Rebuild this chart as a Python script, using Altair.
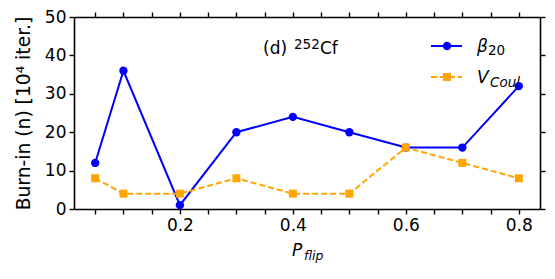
import altair as alt
import pandas as pd

p_flip = [0.05, 0.1, 0.2, 0.3, 0.4, 0.5, 0.6, 0.7, 0.8]
beta20 = [12, 36, 1, 20, 24, 20, 16, 16, 32]
vcoul = [8, 4, 4, 8, 4, 4, 16, 12, 8]
x_ticks = [0.05, 0.1, 0.15, 0.2, 0.25, 0.3, 0.35, 0.4, 0.45, 0.5, 0.55, 0.6, 0.65, 0.7, 0.75, 0.8]
y_ticks = [0, 10, 20, 30, 40, 50]

df = pd.DataFrame({"p": p_flip, "beta": beta20, "vcoul": vcoul})

FONT = "DejaVu Sans"
FS = 17
xscale = alt.Scale(domain=[0.0125, 0.8375], nice=False, zero=False)
yscale = alt.Scale(domain=[0, 50], nice=False)

axis_common = dict(
    domainColor="black", domainWidth=1.6, tickColor="black", tickWidth=1.4,
    tickSize=5, grid=False, labelFont=FONT, labelFontSize=FS, labelColor="black",
    titleFont=FONT, titleFontWeight="normal", titleColor="black",
)

x_bottom = alt.X("p:Q", scale=xscale, axis=alt.Axis(
    orient="bottom", values=x_ticks, title=None, labelPadding=3,
    labelExpr="abs(datum.value*10 % 2) < 0.01 || abs(datum.value*10 % 2 - 2) < 0.01 ? format(datum.value, '.1f') : ''",
    labelFlush=False, labelOverlap=False, **axis_common))
y_left = alt.Y("beta:Q", scale=yscale, axis=alt.Axis(
    orient="left", values=y_ticks, title="Burn-in (n) [10⁴ iter.]", titlePadding=11,
    titleFontSize=18.7, labelPadding=3, **axis_common))

x_top = alt.X("p:Q", scale=xscale, axis=alt.Axis(
    orient="top", values=x_ticks, labels=False, title=None, **axis_common))
y_right = alt.Y("vcoul:Q", scale=yscale, axis=alt.Axis(
    orient="right", values=y_ticks, labels=False, title=None, **axis_common))

base = alt.Chart(df)
beta_line = base.mark_line(color="blue", strokeWidth=2).encode(x=x_bottom, y=y_left)
beta_pts = base.mark_point(shape="circle", filled=True, size=70, color="blue", opacity=1).encode(
    x=alt.X("p:Q", scale=xscale, axis=None), y=alt.Y("beta:Q", scale=yscale, axis=None))
v_line = base.mark_line(color="orange", strokeWidth=2, strokeDash=[6, 3]).encode(x=x_top, y=y_right)
v_pts = base.mark_point(shape="square", filled=True, size=64, color="orange", opacity=1).encode(
    x=alt.X("p:Q", scale=xscale, axis=None), y=alt.Y("vcoul:Q", scale=yscale, axis=None))

one = pd.DataFrame({"a": [0]})
def txt(s, x, y, size=FS, style="normal", baseline="alphabetic", align="left"):
    return alt.Chart(one).mark_text(text=s, font=FONT, fontSize=size, fontStyle=style,
                                    color="black", align=align, baseline=baseline).encode(
        x=alt.value(x), y=alt.value(y))

# annotation (d) 252Cf
ann = [txt("(d)", 189, 37), txt("252", 220, 32, size=13.5), txt("Cf", 246, 37)]
# x-axis title P_flip
xt = [txt("P", 218, 239, style="italic"), txt("flip", 230, 243, size=12.5, style="italic")]
# legend
leg_b_line = alt.Chart(one).mark_rule(color="blue", strokeWidth=2).encode(
    x=alt.value(357), x2=alt.value(388), y=alt.value(29))
leg_b_pt = alt.Chart(one).mark_point(shape="circle", filled=True, size=70, color="blue", opacity=1).encode(
    x=alt.value(373), y=alt.value(29))
leg_v_line = alt.Chart(one).mark_rule(color="orange", strokeWidth=2, strokeDash=[6, 3]).encode(
    x=alt.value(357), x2=alt.value(388), y=alt.value(60))
leg_v_pt = alt.Chart(one).mark_point(shape="square", filled=True, size=64, color="orange", opacity=1).encode(
    x=alt.value(373), y=alt.value(60))
leg_txt = [txt("β", 403, 35, style="italic"), txt("20", 414, 38, size=13.5),
           txt("V", 403, 66, style="italic"), txt("Coul", 416, 70, size=13.5, style="italic")]

layers = [beta_line, v_line, beta_pts, v_pts] + ann + xt + [leg_b_line, leg_v_line, leg_b_pt, leg_v_pt] + leg_txt

chart = alt.layer(*layers).resolve_axis(x="independent", y="independent").properties(
    width=466, height=192,
    autosize=alt.AutoSizeParams(type="none"),
    padding={"left": 66, "top": 9, "right": 7, "bottom": 62},
).configure_view(stroke=None)

chart.save("out.html", embed_options={"renderer": "svg", "actions": False})
